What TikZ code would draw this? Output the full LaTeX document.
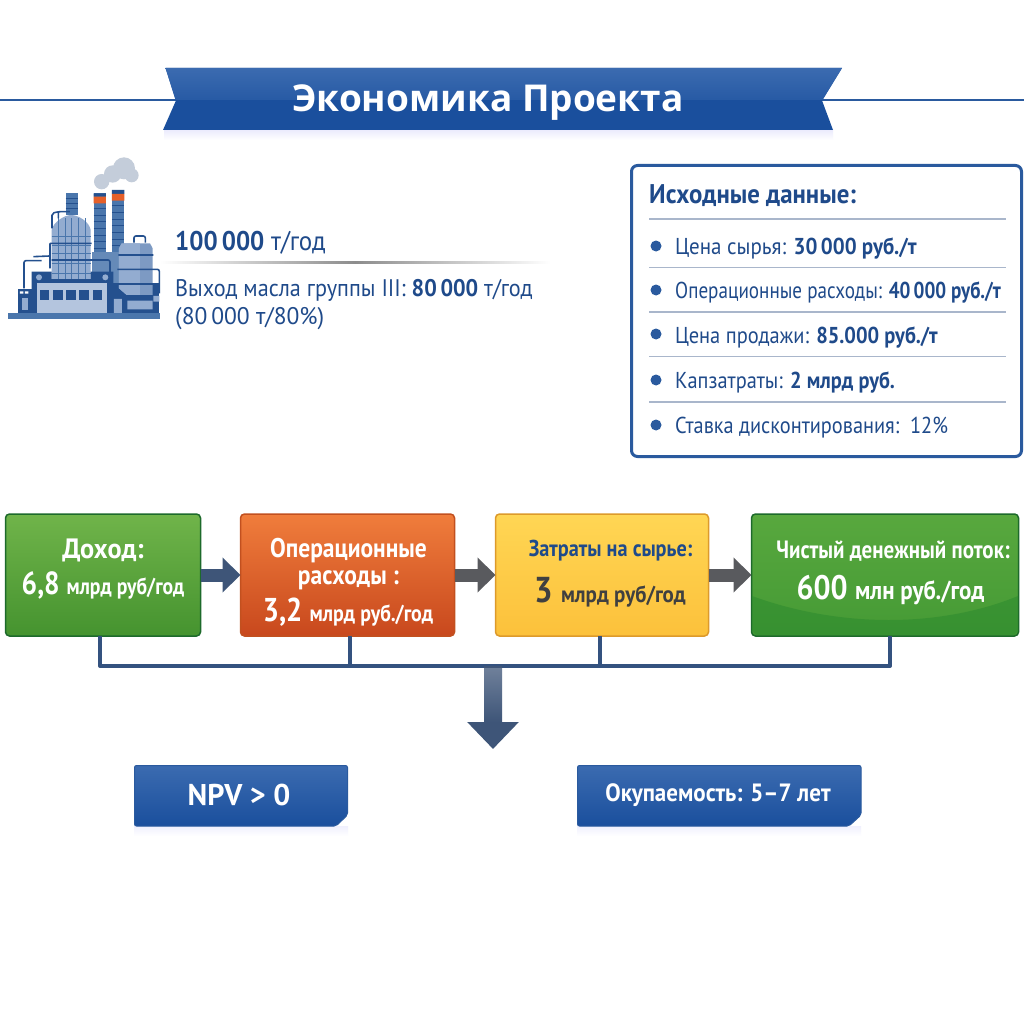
\documentclass[tikz,border=0pt]{standalone}
\usepackage{fontspec}
\usepackage{graphicx}
\setmainfont{PT Sans}
\newfontfamily\titlefont{Open Sans}
\usetikzlibrary{arrows.meta,calc}
\definecolor{navy}{HTML}{1F4A8A}
\definecolor{bluehi}{HTML}{3B6BB0}
\definecolor{bluelo}{HTML}{1A4F9D}
\definecolor{blueline}{HTML}{2A5A9E}
\definecolor{busc}{HTML}{34527F}
\definecolor{rulec}{HTML}{A9B6CB}
\definecolor{arrowa}{HTML}{3E5578}
\definecolor{arrowb}{HTML}{595A5E}
\definecolor{facd}{HTML}{24508E}
\definecolor{facm}{HTML}{4A76AC}
\definecolor{facl}{HTML}{93ACD0}
\definecolor{facs}{HTML}{C4CDDA}
\definecolor{faco}{HTML}{E5602A}
\newcommand{\fs}[1]{\fontsize{#1}{#1}\selectfont}
\newcommand{\sx}[2]{\scalebox{#1}[1]{#2}}
\tikzset{
 flowbox/.style={rectangle,rounded corners=4pt,line width=1.5pt,inner sep=0pt,outer sep=0pt,minimum height=122pt},
 boxgreena/.style={flowbox,minimum width=195pt,draw=HTMLgreena,top color=HTMLgreenb,bottom color=HTMLgreenc},
 boxorange/.style={flowbox,minimum width=214pt,draw=HTMLorangea,top color=HTMLorangeb,bottom color=HTMLorangec},
 boxyellow/.style={flowbox,minimum width=213pt,draw=HTMLyellowa,top color=HTMLyellowb,bottom color=HTMLyellowc},
 boxgreenb/.style={flowbox,minimum width=267pt,draw=HTMLgreena,top color=HTMLgreend,bottom color=HTMLgreene},
 boxlabel/.style={align=center,inner sep=0pt,text=white,font=\bfseries},
 flowarrow/.style={line width=13pt,-{Triangle[length=18pt,width=34pt]}},
 busline/.style={line width=4pt,color=busc,line join=round},
 sepline/.style={line width=1.2pt,color=rulec},
 bulletdot/.style={circle,fill=blueline,minimum size=11pt,inner sep=0pt},
 datatext/.style={anchor=base west,inner sep=0pt,text=navy,font=\fs{23}},
 introtext/.style={anchor=base west,inner sep=0pt,text=navy},
 pipe/.style={line width=1.6pt,color=facd,rounded corners=2pt},
}
\definecolor{HTMLgreena}{HTML}{1D6A2B}
\definecolor{HTMLgreenb}{HTML}{70B44A}
\definecolor{HTMLgreenc}{HTML}{45932F}
\definecolor{HTMLgreend}{HTML}{58A83E}
\definecolor{HTMLgreene}{HTML}{459A35}
\definecolor{HTMLgreenf}{HTML}{2C8A2E}
\definecolor{HTMLorangea}{HTML}{C2501F}
\definecolor{HTMLorangeb}{HTML}{F07D3C}
\definecolor{HTMLorangec}{HTML}{C8481D}
\definecolor{HTMLyellowa}{HTML}{DD9A2B}
\definecolor{HTMLyellowb}{HTML}{FFD654}
\definecolor{HTMLyellowc}{HTML}{FCC13B}
\begin{document}
\begin{tikzpicture}[x=1pt,y=-1pt]
\useasboundingbox (0,0) rectangle (1024,1024);
\fill[white] (0,0) rectangle (1024,1024);
% ---------- banner
\coordinate (notchL) at (176,100.5);
\coordinate (notchR) at (822,100.5);
\coordinate (ruleL) at (0,100.5);
\coordinate (ruleR) at (1024,100.5);
\shade[top color=black!12!blue!8,bottom color=white] (164,130) rectangle (833,140);
\draw[line width=2pt,color=blueline] (ruleL) -- (notchL);
\draw[line width=2pt,color=blueline] (notchR) -- (ruleR);
\fill[bluelo] (165.5,68) -- (842,68) -- (notchR) -- (833,130) -- (163,130) -- (notchL) -- cycle;
\shade[top color=bluehi,bottom color=bluehi!40!bluelo] (165.5,68) -- (842,68) -- (822.5,100) -- (175.5,100) -- cycle;
\node[inner sep=0pt,text=white,font=\titlefont\bfseries\fs{37}] (title) at (488,103) {Экономика Проекта};
% ---------- factory
\begin{scope}[x=0.3333pt,y=-0.3333pt,yshift=-150pt]
 \fill[facs] (305,95) circle (23) (338,72) circle (26) (372,55) circle (33) (395,76) circle (21);
 \fill[facm] (197,130) rectangle (233,195);
 \fill[facm] (281,130) rectangle (318,310);
 \fill[facm] (336,120) rectangle (373,310);
 \foreach \yy in {175,195,...,295} \draw[facd,line width=.35pt] (281,\yy) -- (318,\yy) (336,\yy-8) -- (373,\yy-8);
 \foreach \yy in {145,160,175} \draw[facd,line width=.35pt] (197,\yy) -- (233,\yy);
 \fill[facd] (281,130) rectangle (318,140) (336,120) rectangle (373,132);
 \fill[faco] (281,140) rectangle (318,160) (336,132) rectangle (373,152);
 \fill[facm!85!white] (275,305) rectangle (358,400);
 \fill[facl] (155,400) -- (155,240) .. controls (160,215) and (195,195) .. (213,195) .. controls (235,195) and (268,215) .. (272,240) -- (272,400) -- cycle;
 \foreach \yy in {260,285,310,340,370} \draw[facm,line width=.4pt] (155,\yy) -- (272,\yy);
 \foreach \xx in {175,195,215,235,255} \draw[facm,line width=.4pt] (\xx,205) -- (\xx,400);
 \fill[facd] (95,365) rectangle (155,490) (272,365) rectangle (340,490);
 \fill[facd] (150,388) rectangle (280,400);
 \fill[facd] (55,418) rectangle (108,490);
 \fill[facl!70!white] (110,400) rectangle (322,492);
 \foreach \xx in {120,160,199,238,278} \fill[facd] (\xx,420) rectangle ++(28,30);
 \fill[facl] (117,382) circle (9) (316,382) circle (9);
 \fill[facl] (66,443) rectangle (84,480);
 \fill[white] (60,424) rectangle (70,431) (75,424) rectangle (85,431);
 \fill[facd] (322,400) rectangle (478,492);
 \fill[facl!80!facd] (357,295) -- (365,280) -- (450,280) -- (458,295) -- (458,435) -- (380,435) -- (357,415) -- cycle;
 \fill[facl] (357,295) -- (365,280) -- (420,280) -- (420,435) -- (380,435) -- (357,415) -- cycle;
 \fill[facl] (342,447) rectangle (366,492) (382,452) rectangle (458,478) (460,438) rectangle (478,455);
 \draw[pipe] (355,315) -- (460,315) (352,358) -- (478,358) -- (478,430) (352,402) -- (462,402);
 \draw[pipe] (402,278) -- (402,258) -- (436,258) -- (436,278);
 \draw[pipe] (150,280) -- (275,280) (150,280) -- (150,355) (155,330) -- (330,330) -- (330,395);
 \draw[pipe] (156,235) -- (156,190) -- (175,185) -- (210,185) (175,185) -- (175,205);
 \draw[pipe] (155,388) -- (275,388);
 \draw[pipe] (72,415) -- (72,332) -- (125,332) (100,320) -- (150,318);
 \fill[facm] (25,490) rectangle (480,507);
\end{scope}
% ---------- intro text
\node[introtext,font=\fs{27}] (capacity) at (175,251) {\sx{.926}{\textbf{100\,000} т/год}};
\shade[left color=white,right color=white,middle color=black!45] (160,261) rectangle (550,263);
\node[introtext,font=\fs{24}] (yield) at (175,296) {\sx{.925}{Выход масла группы III: \textbf{80\,000} т/год}};
\node[introtext,font=\fs{24}] (yieldcalc) at (175,324) {\sx{.98}{(80\,000 т/80\%)}};
% ---------- data box
\node[rectangle,draw=blueline,line width=3pt,rounded corners=6pt,fill=white,minimum width=390pt,minimum height=291pt,inner sep=0pt] (data) at (826.5,311) {};
\node[datatext,font=\fs{27}] (datahead) at (649,204) {\sx{.92}{\textbf{Исходные данные:}}};
\foreach \yy in {219,267.5,312,356.5,402} \draw[sepline] (649,\yy) -- (1006,\yy);
\node[bulletdot] (d1) at (656,246) {};
\node[bulletdot] (d2) at (656,290) {};
\node[bulletdot] (d3) at (656,334) {};
\node[bulletdot] (d4) at (656,380) {};
\node[bulletdot] (d5) at (656,425) {};
\node[datatext] (t1) at (675,254) {\sx{.913}{Цена сырья: \textbf{30\,000 руб./т}}};
\node[datatext] (t2) at (675,298) {\sx{.831}{Операционные расходы: \textbf{40\,000 руб./т}}};
\node[datatext] (t3) at (675,343) {\sx{.889}{Цена продажи: \textbf{85.000 руб./т}}};
\node[datatext] (t4) at (675,388) {\sx{.885}{Капзатраты: \textbf{2 млрд руб.}}};
\node[datatext] (t5) at (675,433) {\sx{.884}{Ставка дисконтирования:\ \ 12\%}};
% ---------- bus
\coordinate (b1) at (100,666);
\coordinate (b2) at (349.5,666);
\coordinate (b3) at (600,666);
\coordinate (b4) at (890,666);
\coordinate (bc) at (493,666);
\coordinate (tip) at (493,749);
% ---------- flow boxes
\node[boxgreena] (n1) at (103,575) {};
\node[boxorange] (n2) at (347.5,575) {};
\node[boxyellow] (n3) at (602,575) {};
\node[boxgreenb] (n4) at (885,575) {};
\fill[HTMLgreenf,opacity=.55] (752,596) .. controls (840,628) and (940,628) .. (1018,596) -- (1018,631) -- (1014,635) -- (756,635) -- (752,631) -- cycle;
\draw[busline] (b1 |- n1.south) -- (b1) -- (b4) -- (b4 |- n4.south);
\draw[busline] (b2 |- n2.south) -- (b2);
\draw[busline] (b3 |- n3.south) -- (b3);
\draw[flowarrow,color=arrowa] (n1.east) -- (n2.west);
\draw[flowarrow,color=arrowb] (n2.east) -- (n3.west);
\draw[flowarrow,color=arrowb] (n3.east) -- (n4.west);
\draw[line width=18pt,color=arrowa,-{Triangle[length=27pt,width=50pt]}] (bc) -- (tip);
\shade[top color=arrowa!75!white,bottom color=arrowa] ($(bc)+(-9,2)$) rectangle ($(bc)+(9,56)$);
% ---------- flow labels
\node[boxlabel,font=\bfseries\fs{28}] (l1a) at (103,550) {\sx{.94}{Доход:}};
\node[boxlabel] (l1b) at (103,585) {\sx{.857}{\fs{32}6,8 \fs{23}млрд руб/год}};
\node[boxlabel,font=\bfseries\fs{27}] (l2a) at (348.5,564) {\sx{.87}{Операционные}\\[0pt]\sx{.87}{расходы :}};
\node[boxlabel] (l2b) at (348,612) {\sx{.866}{\fs{33}3,2 \fs{23}млрд руб./год}};
\node[boxlabel,font=\bfseries\fs{23},text=navy] (l3a) at (610.5,551) {\sx{.88}{Затраты на сырье:}};
\node[boxlabel,text=black!75] (l3b) at (610,592) {\sx{.91}{\fs{36}3 \fs{23}млрд руб/год}};
\node[boxlabel,font=\bfseries\fs{25}] (l4a) at (893,551) {\sx{.84}{Чистый денежный поток:}};
\node[boxlabel] (l4b) at (890.5,590) {\sx{.883}{\fs{34}600 \fs{26}млн руб./год}};
% ---------- result boxes
\shade[top color=black!10!blue!6,bottom color=white] (134,826) rectangle (348,836);
\shade[top color=black!10!blue!6,bottom color=white] (577,826) rectangle (861,836);
\shade[top color=bluehi,bottom color=bluelo,draw=blueline,line width=1pt,rounded corners=2pt] (134.5,765.5) -- (347.5,765.5) -- (347.5,815) -- (336,826) -- (134.5,826) -- cycle;
\shade[top color=bluehi,bottom color=bluelo,draw=blueline,line width=1pt,rounded corners=2pt] (577.5,765.5) -- (861,765.5) -- (861,815) -- (849,826) -- (577.5,826) -- cycle;
\node[boxlabel,font=\bfseries\fs{30}] (npv) at (239,795) {NPV > 0};
\node[boxlabel,font=\bfseries\fs{25}] (payback) at (718,795) {\sx{.92}{Окупаемость: 5–7 лет}};
\end{tikzpicture}
\end{document}
